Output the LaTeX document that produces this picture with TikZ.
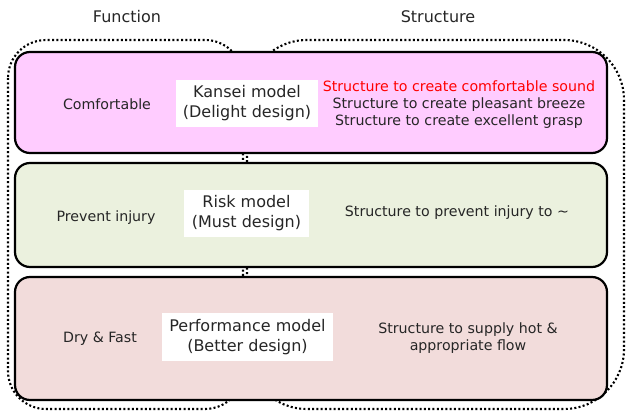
\documentclass[tikz,border=0pt]{standalone}
\usepackage{fontspec}
\setmainfont{DejaVu Sans}
\begin{document}
\begin{tikzpicture}[x=1pt,y=-1pt,
  dotbox/.style={draw=black, line width=2.1pt, dash pattern=on 2pt off 2.3pt},
  layer/.style={draw=black, line width=2.2pt, rounded corners=15pt},
  lbl/.style={font=\fontsize{14.2}{17}\selectfont, text=black!85, align=center, inner sep=0pt},
  model/.style={fill=white, font=\fontsize{16}{20}\selectfont, text=black!85, align=center, inner sep=0pt},
  head/.style={font=\fontsize{16}{19}\selectfont, text=black!85, inner sep=0pt}]
\useasboundingbox (0,0) rectangle (627,412);
\definecolor{pinkA}{HTML}{FFCCFF}
\definecolor{greenA}{HTML}{EBF1DE}
\definecolor{roseA}{HTML}{F2DCDB}
% headers
\node[head] (fun) at (127,17) {Function};
\node[head] (str) at (438,17) {Structure};
% dotted groups
\draw[dotbox, rounded corners=38pt] (8,40) rectangle (243,409);
\draw[dotbox, rounded corners=60pt] (247,40) rectangle (624,409);
% layers
\draw[layer, fill=pinkA] (15,52) rectangle (607,153);
\draw[layer, fill=greenA] (15,163) rectangle (607,267);
\draw[layer, fill=roseA] (15,277) rectangle (607,400);
% layer 1
\node[lbl] (f1) at (107,104) {Comfortable};
\node[model, minimum width=142pt, minimum height=47pt] (m1) at (247,103.5) {Kansei model\\(Delight design)};
\node[lbl] (s1) at (459,105) {\textcolor{red}{Structure to create comfortable sound}\\Structure to create pleasant breeze\\Structure to create excellent grasp};
% layer 2
\node[lbl] (f2) at (106,218) {Prevent injury};
\node[model, minimum width=125pt, minimum height=47pt] (m2) at (246.5,213.5) {Risk model\\(Must design)};
\node[lbl] (s2) at (457,213) {Structure to prevent injury to \textasciitilde};
% layer 3
\node[lbl] (f3) at (100,339) {Dry \& Fast};
\node[model, minimum width=171pt, minimum height=48pt] (m3) at (247.5,337) {Performance model\\(Better design)};
\node[lbl] (s3) at (468,338.5) {Structure to supply hot \&\\appropriate flow};
\end{tikzpicture}
\end{document}
